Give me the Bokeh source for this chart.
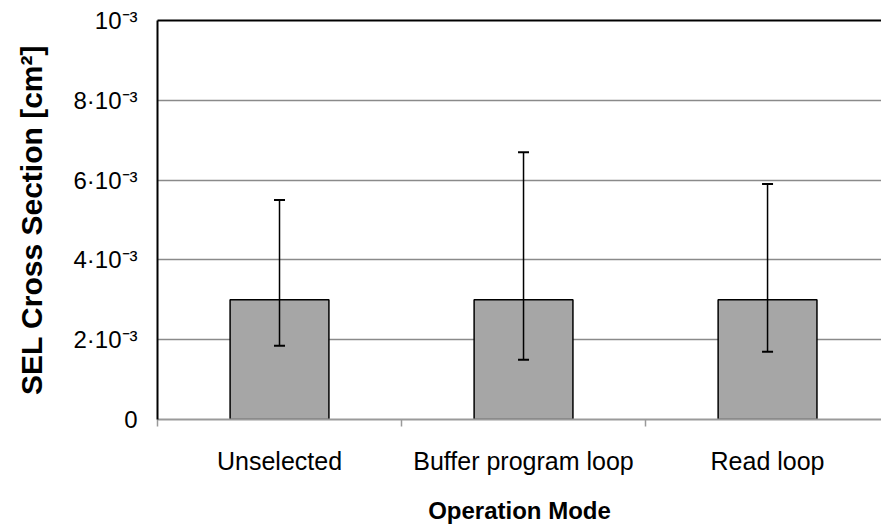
from bokeh.plotting import figure
from bokeh.models import (ColumnDataSource, Range1d, FixedTicker, LinearAxis,
                          Whisker, TeeHead)
from bokeh.embed import file_html
from bokeh.resources import INLINE

# ---- data ----
categories = ["Unselected", "Buffer program loop", "Read loop"]
sel_cross_section = [3.0e-3, 3.0e-3, 3.0e-3]
err_upper = [5.5e-3, 6.7e-3, 5.9e-3]
err_lower = [1.85e-3, 1.5e-3, 1.7e-3]
y_ticks = [0.0, 2e-3, 4e-3, 6e-3, 8e-3, 10e-3]
y_tick_labels = ["0", "2·10⁻³", "4·10⁻³", "6·10⁻³", "8·10⁻³", "10⁻³"]

x_pos = [i + 0.5 for i in range(len(categories))]
source = ColumnDataSource(dict(x=x_pos, cat=categories, top=sel_cross_section,
                               upper=err_upper, lower=err_lower))

FONT = "Liberation Sans"

p = figure(width=881, height=527, output_backend="svg", toolbar_location=None,
           x_range=Range1d(0, 2.967), y_range=Range1d(0, 10e-3),
           min_border_left=157, min_border_right=0, min_border_top=20,
           min_border_bottom=108, outline_line_color=None,
           background_fill_color="white", border_fill_color="white")

p.vbar(x="x", top="top", width=0.405, bottom=0, source=source,
       fill_color="#a6a6a6", line_color="black", line_width=1.5)

whisk = Whisker(source=source, base="x", upper="upper", lower="lower",
                line_color="black", line_width=1.5, level="overlay",
                upper_head=TeeHead(size=11, line_color="black", line_width=2),
                lower_head=TeeHead(size=11, line_color="black", line_width=2))
p.add_layout(whisk)

# grid
p.xgrid.grid_line_color = None
p.ygrid.ticker = FixedTicker(ticks=y_ticks)
p.ygrid.grid_line_color = "#8a8a8a"
p.ygrid.grid_line_width = 1.5

# y axis
yax = p.yaxis[0]
yax.ticker = FixedTicker(ticks=y_ticks)
yax.major_label_overrides = {t: l for t, l in zip(y_ticks, y_tick_labels)}
yax.axis_line_color = "black"
yax.axis_line_width = 2
yax.major_tick_out = 0
yax.major_tick_in = 0
yax.minor_tick_line_color = None
yax.major_label_text_font = FONT
yax.major_label_text_font_size = "24px"
yax.major_label_text_color = "black"
yax.major_label_standoff = 20
yax.axis_label = "SEL Cross Section [cm²]"
yax.axis_label_text_font = FONT
yax.axis_label_text_font_style = "bold"
yax.axis_label_text_font_size = "30px"
yax.axis_label_text_color = "black"
yax.axis_label_standoff = 22

# x axis
xax = p.xaxis[0]
xax.ticker = FixedTicker(ticks=x_pos, minor_ticks=[0, 1, 2, 3])
xax.major_label_overrides = {x: c for x, c in zip(x_pos, categories)}
xax.axis_line_color = "#9a9a9a"
xax.axis_line_width = 2
xax.major_tick_out = 0
xax.major_tick_in = 0
xax.minor_tick_out = 7
xax.minor_tick_in = 0
xax.minor_tick_line_color = "#9a9a9a"
xax.minor_tick_line_width = 1.5
xax.major_label_text_font = FONT
xax.major_label_text_font_size = "25px"
xax.major_label_text_color = "black"
xax.major_label_standoff = 20
xax.axis_label = "Operation Mode"
xax.axis_label_text_font = FONT
xax.axis_label_text_font_style = "bold"
xax.axis_label_text_font_size = "24px"
xax.axis_label_text_color = "black"
xax.axis_label_standoff = 19

# top border line
top_ax = LinearAxis(ticker=FixedTicker(ticks=[]), axis_line_color="black",
                    axis_line_width=2, major_tick_line_color=None,
                    minor_tick_line_color=None, major_label_text_color=None)
p.add_layout(top_ax, "above")

open("out.html", "w").write(file_html(p, INLINE))
